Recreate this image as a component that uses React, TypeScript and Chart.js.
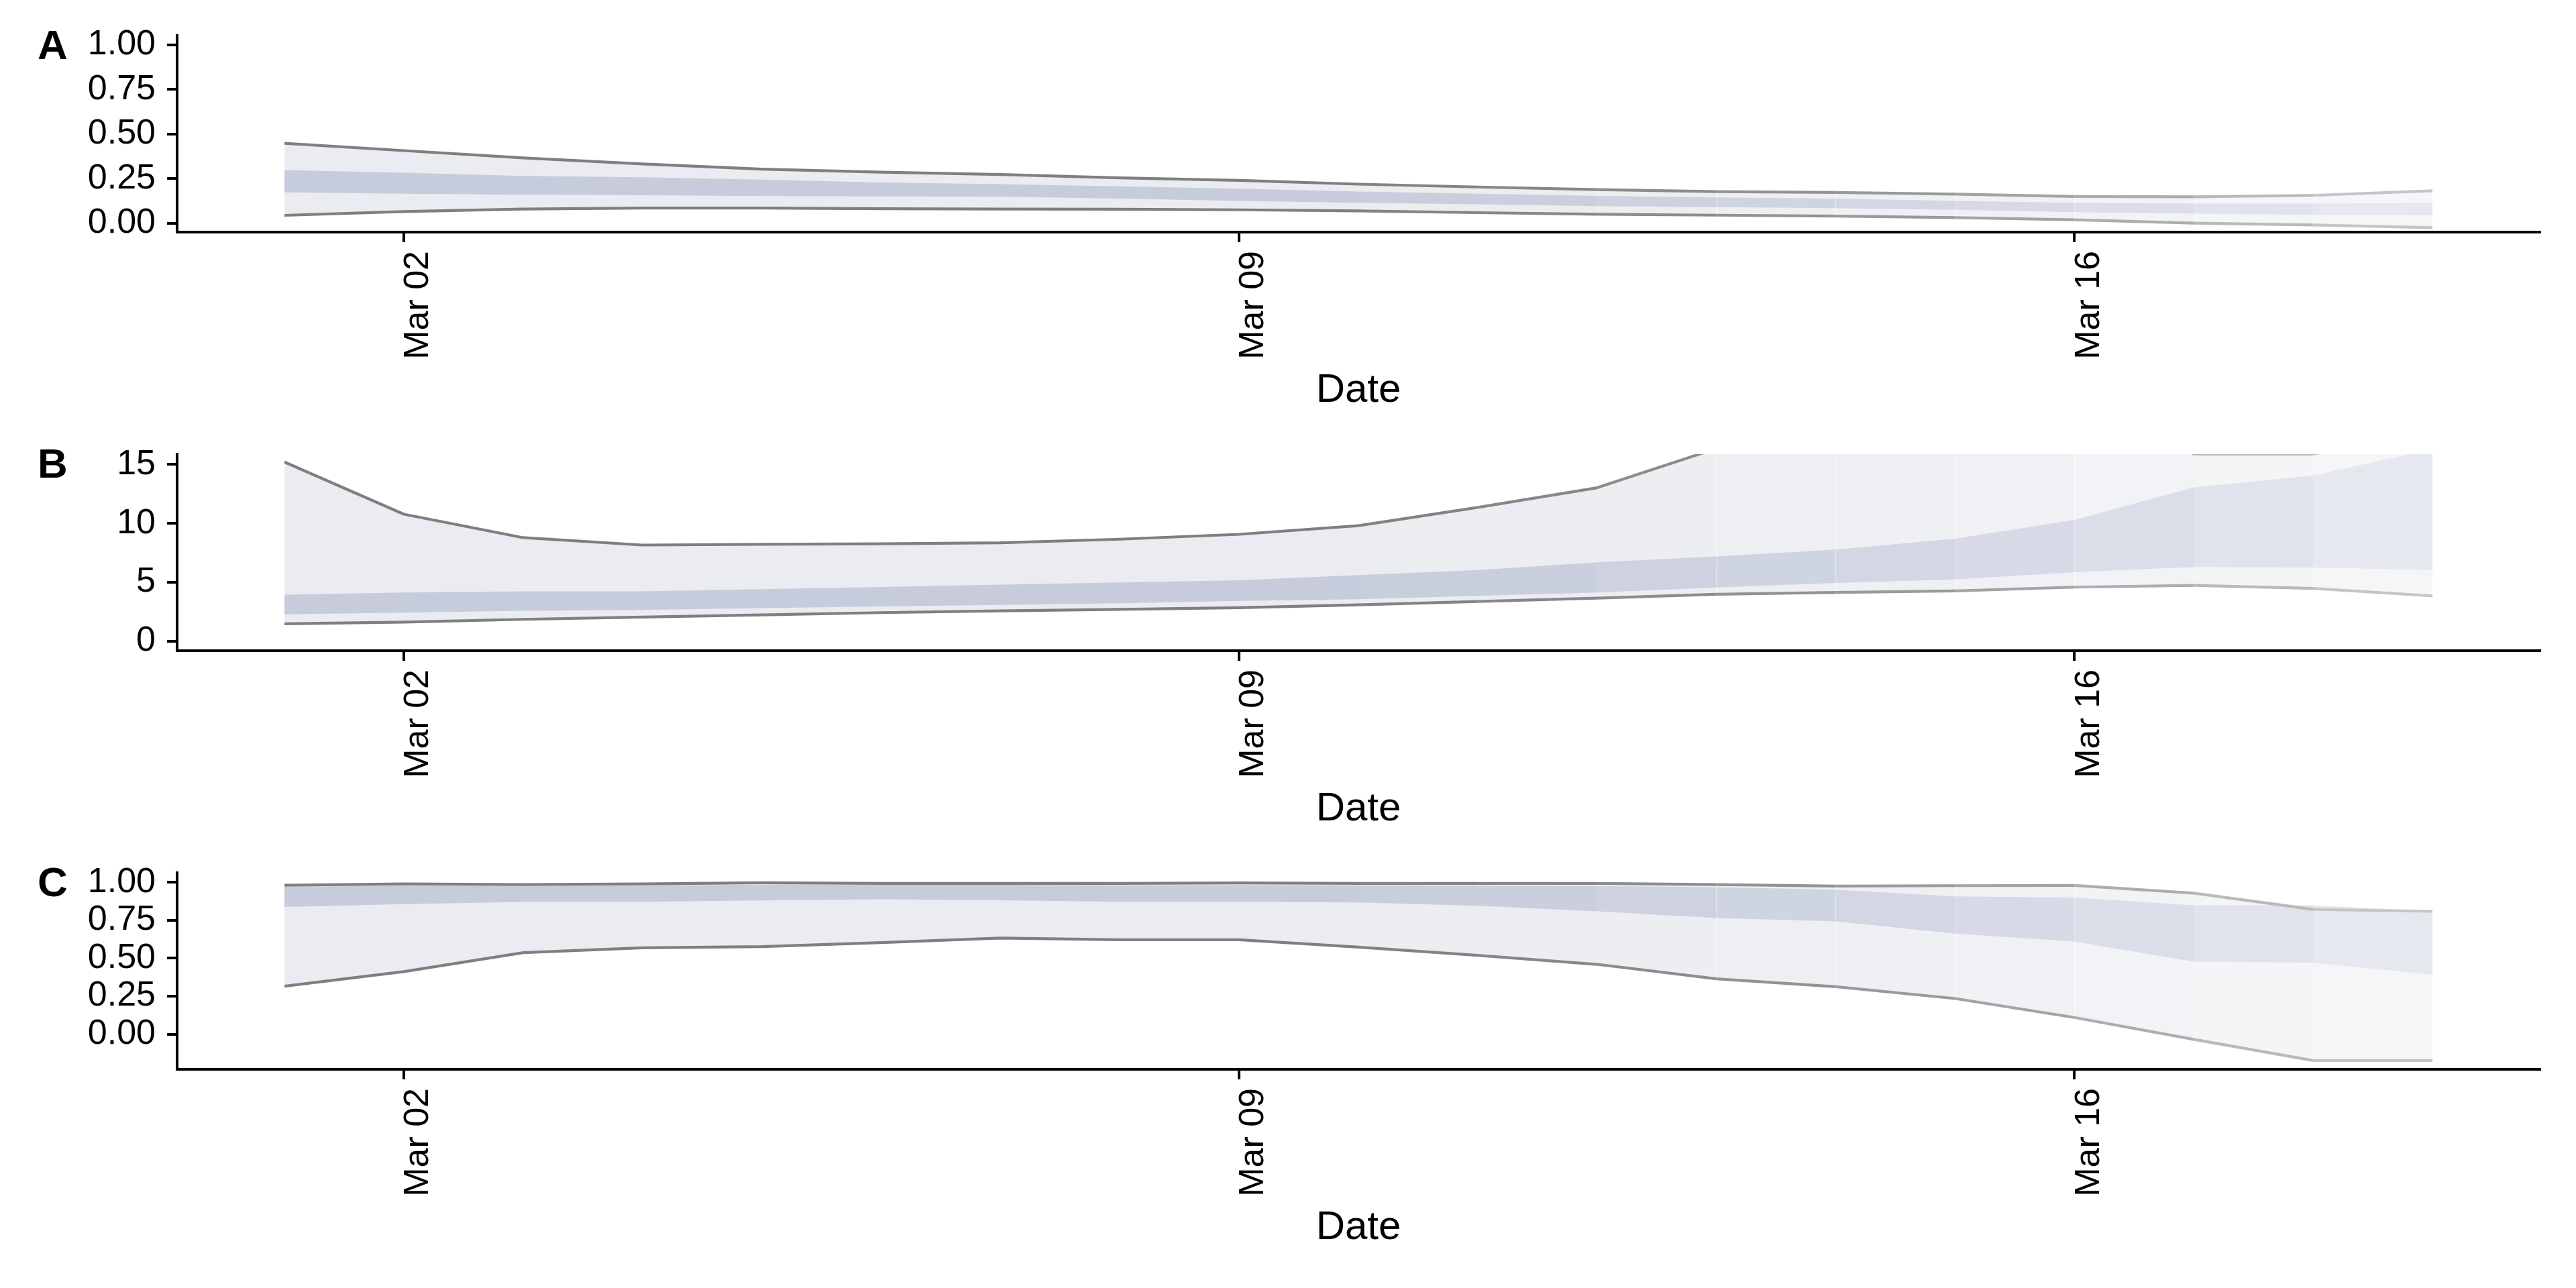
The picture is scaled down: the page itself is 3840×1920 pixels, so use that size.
import React, { useEffect, useRef } from "react";
import { Chart, registerables } from "chart.js";

Chart.register(...registerables);

const FONT = "'Liberation Sans', Arial, Helvetica, sans-serif";

// Dates (day of March)
const DAYS = [1, 2, 3, 4, 5, 6, 7, 8, 9, 10, 11, 12, 13, 14, 15, 16, 17, 18, 19];
const X_TICKS = [2, 9, 16];
const X_TICK_LABELS = ["Mar 02", "Mar 09", "Mar 16"];

// opacity weight of each day-to-day segment (18 segments)
const SEGMENT_WEIGHT = [1, 1, 1, 1, 1, 1, 1, 1, 1, 0.97, 0.94, 0.9, 0.85, 0.79, 0.72, 0.64, 0.55, 0.45];

// Panel A
const A_LOWER95 = [0.044, 0.065, 0.079, 0.085, 0.085, 0.081, 0.079, 0.078, 0.075, 0.069, 0.059, 0.050, 0.045, 0.040, 0.031, 0.019, 0.0, -0.010, -0.025];
const A_LOWER50 = [0.173, 0.165, 0.160, 0.157, 0.152, 0.150, 0.148, 0.138, 0.125, 0.115, 0.106, 0.096, 0.090, 0.084, 0.075, 0.062, 0.053, 0.047, 0.044];
const A_UPPER50 = [0.298, 0.283, 0.265, 0.257, 0.244, 0.228, 0.219, 0.207, 0.194, 0.178, 0.165, 0.153, 0.145, 0.138, 0.125, 0.115, 0.110, 0.110, 0.113];
const A_UPPER95 = [0.448, 0.407, 0.366, 0.332, 0.303, 0.286, 0.273, 0.254, 0.240, 0.219, 0.203, 0.188, 0.177, 0.172, 0.163, 0.150, 0.148, 0.156, 0.182];
const A_Y_TICKS = [0, 0.25, 0.5, 0.75, 1];

// Panel B
const B_LOWER95 = [1.48, 1.63, 1.86, 2.05, 2.24, 2.43, 2.58, 2.71, 2.85, 3.09, 3.38, 3.66, 3.99, 4.14, 4.27, 4.59, 4.74, 4.48, 3.85];
const B_LOWER50 = [2.28, 2.43, 2.58, 2.66, 2.81, 2.96, 3.09, 3.22, 3.42, 3.57, 3.85, 4.14, 4.56, 4.94, 5.24, 5.85, 6.3, 6.26, 6.04];
const B_UPPER50 = [3.95, 4.14, 4.23, 4.23, 4.42, 4.61, 4.8, 4.99, 5.18, 5.62, 6.04, 6.7, 7.2, 7.78, 8.7, 10.3, 13.06, 14.05, 16.3];
const B_UPPER95 = [15.2, 10.78, 8.79, 8.16, 8.22, 8.27, 8.35, 8.66, 9.07, 9.8, 11.35, 13.02, 16.35, 18.5, 20.5, 22.0, 15.87, 15.87, 18.0];
const B_Y_TICKS = [0, 5, 10, 15];

// Panel C
const C_LOWER95 = [0.316, 0.412, 0.537, 0.569, 0.577, 0.603, 0.633, 0.622, 0.622, 0.573, 0.519, 0.460, 0.365, 0.313, 0.235, 0.110, -0.034, -0.173, -0.173];
const C_LOWER50 = [0.838, 0.856, 0.871, 0.872, 0.881, 0.889, 0.882, 0.872, 0.872, 0.868, 0.846, 0.809, 0.765, 0.743, 0.662, 0.610, 0.478, 0.471, 0.393];
const C_UPPER50 = [0.970, 0.978, 0.975, 0.978, 0.985, 0.983, 0.983, 0.980, 0.982, 0.980, 0.978, 0.975, 0.968, 0.951, 0.907, 0.900, 0.849, 0.849, 0.810];
const C_UPPER95 = [0.981, 0.990, 0.985, 0.990, 0.997, 0.993, 0.993, 0.993, 0.996, 0.993, 0.993, 0.993, 0.985, 0.975, 0.978, 0.980, 0.929, 0.822, 0.809];
const C_Y_TICKS = [0, 0.25, 0.5, 0.75, 1];

const OUTER_RGB = [235, 236, 241];
const INNER_RGB = [199, 204, 220];
const LINE_RGB = [127, 127, 127];

const mix = (rgb: number[], w: number) =>
  `rgb(${rgb.map((c) => Math.round(255 - w * (255 - c))).join(",")})`;

type PanelSpec = {
  letter: string;
  lower95: number[];
  lower50: number[];
  upper50: number[];
  upper95: number[];
  yMin: number;
  yMax: number;
  yTicks: number[];
  decimals: number;
};

const PANELS: PanelSpec[] = [
  { letter: "A", lower95: A_LOWER95, lower50: A_LOWER50, upper50: A_UPPER50, upper95: A_UPPER95, yMin: -0.05, yMax: 1.052, yTicks: A_Y_TICKS, decimals: 2 },
  { letter: "B", lower95: B_LOWER95, lower50: B_LOWER50, upper50: B_UPPER50, upper95: B_UPPER95, yMin: -0.8, yMax: 15.87, yTicks: B_Y_TICKS, decimals: 0 },
  { letter: "C", lower95: C_LOWER95, lower50: C_LOWER50, upper50: C_UPPER50, upper95: C_UPPER95, yMin: -0.231, yMax: 1.063, yTicks: C_Y_TICKS, decimals: 2 },
];

const PANEL_H = 624;

function Panel({ spec }: { spec: PanelSpec }) {
  const ref = useRef<HTMLCanvasElement>(null);
  useEffect(() => {
    if (!ref.current) return;
    const pts = (arr: number[]) => arr.map((y, i) => ({ x: DAYS[i], y }));
    const w = (ctx: any) => SEGMENT_WEIGHT[ctx.p0DataIndex] ?? 1;
    const invisible = {
      borderWidth: 0,
      borderColor: "rgba(0,0,0,0)",
      pointRadius: 0,
      clip: 0,
    };
    const lineStyle = {
      borderWidth: 4.2,
      borderColor: mix(LINE_RGB, 1),
      borderJoinStyle: "round" as const,
      pointRadius: 0,
      fill: false,
      clip: 0,
      segment: { borderColor: (ctx: any) => mix(LINE_RGB, w(ctx)) },
    };
    const letterPlugin = {
      id: "panelLetter",
      afterDraw(chart: any) {
        const c = chart.ctx;
        c.save();
        c.font = `bold 62px ${FONT}`;
        c.fillStyle = "#000";
        c.textAlign = "left";
        c.textBaseline = "alphabetic";
        c.fillText(spec.letter, 56, 88);
        c.restore();
      },
    };
    const axisCommon = {
      grid: { drawOnChartArea: false, drawTicks: true, tickLength: 15, color: "#000", lineWidth: 4 },
      border: { display: true, color: "#000", width: 4 },
    };
    const chart = new Chart(ref.current, {
      type: "line",
      data: {
        datasets: [
          { ...invisible, data: pts(spec.lower95), fill: false, order: 3 },
          {
            ...invisible,
            data: pts(spec.upper95),
            fill: "-1",
            backgroundColor: mix(OUTER_RGB, 1),
            segment: { backgroundColor: (ctx: any) => mix(OUTER_RGB, w(ctx)) },
            order: 3,
          },
          { ...invisible, data: pts(spec.lower50), fill: false, order: 2 },
          {
            ...invisible,
            data: pts(spec.upper50),
            fill: "-1",
            backgroundColor: mix(INNER_RGB, 1),
            segment: { backgroundColor: (ctx: any) => mix(INNER_RGB, w(ctx)) },
            order: 2,
          },
          { ...lineStyle, data: pts(spec.lower95), order: 1 },
          { ...lineStyle, data: pts(spec.upper95), order: 1 },
        ] as any,
      },
      options: {
        responsive: false,
        animation: false,
        maintainAspectRatio: false,
        layout: { padding: { top: 53, right: 54, bottom: 0, left: 0 } },
        plugins: { legend: { display: false }, tooltip: { enabled: false } },
        scales: {
          x: {
            type: "linear",
            min: 0.1,
            max: 19.9,
            ...axisCommon,
            afterBuildTicks: (s: any) => {
              s.ticks = X_TICKS.map((v) => ({ value: v }));
            },
            afterFit: (s: any) => {
              s.height = 278;
            },
            ticks: {
              autoSkip: false,
              minRotation: 90,
              maxRotation: 90,
              padding: 13,
              labelOffset: 22,
              color: "#000",
              font: { family: FONT, size: 52, lineHeight: 0.8 },
              callback: (v: any) => X_TICK_LABELS[X_TICKS.indexOf(Number(v))] ?? "",
            },
            title: {
              display: true,
              text: "Date",
              color: "#000",
              font: { family: FONT, size: 60 },
              padding: { top: 0, bottom: 6 },
            },
          },
          y: {
            type: "linear",
            min: spec.yMin,
            max: spec.yMax,
            ...axisCommon,
            afterBuildTicks: (s: any) => {
              s.ticks = spec.yTicks.map((v) => ({ value: v }));
            },
            afterFit: (s: any) => {
              s.width = 264;
            },
            ticks: {
              autoSkip: false,
              padding: 17,
              color: "#000",
              font: { family: FONT, size: 52 },
              callback: (v: any) => Number(v).toFixed(spec.decimals),
            },
          },
        },
      } as any,
      plugins: [letterPlugin],
    });
    return () => chart.destroy();
  }, [spec]);
  return <canvas ref={ref} width={3840} height={PANEL_H} style={{ display: "block", width: 3840, height: PANEL_H }} />;
}

export default function App() {
  return (
    <div style={{ position: "absolute", left: 0, top: 0, width: 3840, height: 1920, background: "#fff" }}>
      {PANELS.map((p, i) => (
        <div key={p.letter} style={{ position: "absolute", left: 0, top: i * PANEL_H, width: 3840, height: PANEL_H }}>
          <Panel spec={p} />
        </div>
      ))}
    </div>
  );
}
